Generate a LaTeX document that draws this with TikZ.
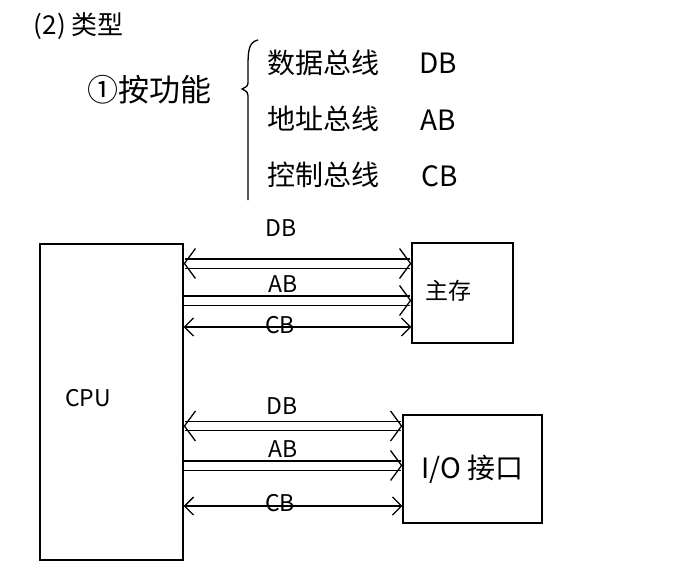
\documentclass[tikz,border=0pt]{standalone}
\usepackage{fontspec}
\setmainfont{Noto Sans CJK SC}
\usetikzlibrary{positioning,calc,arrows.meta}

\begin{document}
\begin{tikzpicture}[x=1pt, y=-1pt, line width=1.3pt, >={Straight Barb[length=9pt,width=18pt]}, box/.style = {draw, inner sep=0pt}, buslbl/.style = {font=\fontsize{23}{23}\selectfont, inner sep=1pt}, item/.style = {font=\fontsize{28}{28}\selectfont, inner sep=0pt}, every edge/.append style={line width=1.3pt}, wide/.style = {double, double distance=8pt, >={Straight Barb[length=11pt,width=30pt]}}]
\useasboundingbox (0,0) rectangle (695,570);

% heading
\node[anchor=west, font=\fontsize{26}{26}\selectfont] (title) at (30,26) {(2) 类型};
\node[font=\fontsize{31}{31}\selectfont] (func) at (149,90) {①按功能};
\draw (258,40) .. controls (249,42) and (248,50) .. (248,66) -- (248,80) .. controls (248,86) .. (242,89) .. controls (248,92) .. (248,100) -- (248,200);

\node[item, anchor=west] (db) at (267,63) {数据总线};
\node[item, anchor=west] (ab) at (267,119) {地址总线};
\node[item, anchor=west] (cb) at (267,175) {控制总线};
\node[item] (dbn) at (438,63) {DB};
\node[item] (abn) at (438,120) {AB};
\node[item] (cbn) at (440,176) {CB};

% boxes
\node[box, minimum width=143pt, minimum height=316pt] (cpu) at (111.5,402) {};
\node[font=\fontsize{23}{23}\selectfont] (cpulbl) at (88,398) {CPU};
\node[box, minimum width=101pt, minimum height=100pt] (mem) at (462.5,293) {};
\node[font=\fontsize{23}{23}\selectfont] (memlbl) at (448,291) {主存};
\node[box, minimum width=139pt, minimum height=108pt, font=\fontsize{28}{28}\selectfont] (io) at (472.5,469) {I/O 接口};

% buses to memory
\coordinate (mdb) at (mem.west |- 0,263.5);
\coordinate (mab) at (mem.west |- 0,300.5);
\coordinate (mcb) at (mem.west |- 0,327);

\path
 (cpu.east |- mdb) edge[wide, <->] (mdb)
 (cpu.east |- mab) edge[wide, ->] (mab)
 (cpu.east |- mcb) edge[<->] (mcb);

\node[buslbl] (mdblbl) at (281,228) {DB};
\node[buslbl] (mablbl) at (283,284) {AB};
\node[buslbl] (mcblbl) at (280,325) {CB};

% buses to I/O
\coordinate (idb) at (io.west |- 0,426);
\coordinate (iab) at (io.west |- 0,465.5);
\coordinate (icb) at (io.west |- 0,506);

\path
 (cpu.east |- idb) edge[wide, <->] (idb)
 (cpu.east |- iab) edge[wide, ->] (iab)
 (cpu.east |- icb) edge[<->] (icb);

\node[buslbl] (idblbl) at (282,406) {DB};
\node[buslbl] (iablbl) at (283,449) {AB};
\node[buslbl] (icblbl) at (280,503) {CB};
\end{tikzpicture}
\end{document}
